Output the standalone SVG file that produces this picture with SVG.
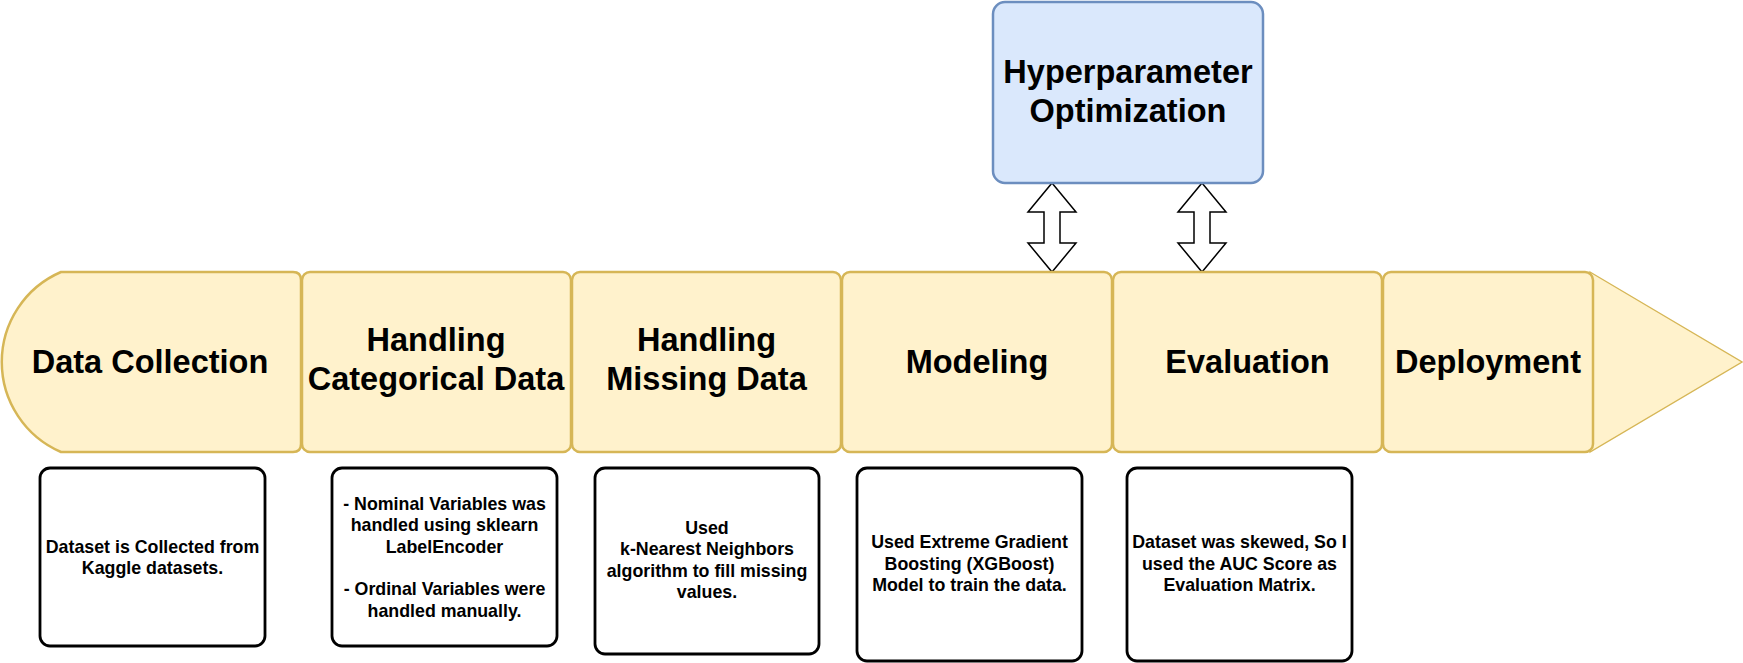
<svg xmlns="http://www.w3.org/2000/svg" width="1743" height="663" viewBox="0 0 1743 663">
<style>
.seg{fill:#fff2cc;stroke:#d6b656;stroke-width:2.5}
.tri{fill:#fff2cc;stroke:#d6b656;stroke-width:1.3}
.hyp{fill:#dae8fc;stroke:#6c8ebf;stroke-width:2.5}
.box{fill:#ffffff;stroke:#000000;stroke-width:2.8}
.arr{fill:#ffffff;stroke:#000000;stroke-width:1.5;stroke-linejoin:miter}
.big{font-family:"Liberation Sans",Arial,sans-serif;font-weight:bold;font-size:32.5px;fill:#000;text-anchor:middle}
.small{font-family:"Liberation Sans",Arial,sans-serif;font-weight:bold;font-size:17.8px;fill:#000;text-anchor:middle}
</style>
<rect width="1743" height="663" fill="#ffffff"/>

<g id="connectors">
<path class="arr" d="M1052 183 L1076 212 L1060 212 L1060 243 L1076 243 L1052 272 L1028 243 L1044 243 L1044 212 L1028 212 Z"/>
<path class="arr" d="M1202 183 L1226 212 L1210 212 L1210 243 L1226 243 L1202 272 L1178 243 L1194 243 L1194 212 L1178 212 Z"/>
</g>

<g id="hyperparameter">
<rect class="hyp" x="993" y="2" width="270" height="181" rx="12"/>
<text class="big" x="1128" y="83">Hyperparameter</text>
<text class="big" x="1128" y="122">Optimization</text>
</g>

<g id="arrow-tip">
<polygon class="tri" points="1590,272 1742,362 1590,452"/>
</g>

<g id="data-collection">
<path class="seg" d="M61 272 L293 272 Q301 272 301 280 L301 444 Q301 452 293 452 L61 452 A98 98 0 0 1 61 272 Z"/>
<text class="big" x="150" y="373">Data Collection</text>
</g>

<g id="categorical">
<rect class="seg" x="302" y="272" width="269" height="180" rx="8"/>
<text class="big" x="436" y="351">Handling</text>
<text class="big" x="436" y="390">Categorical Data</text>
</g>

<g id="missing">
<rect class="seg" x="572" y="272" width="269" height="180" rx="8"/>
<text class="big" x="706.5" y="351">Handling</text>
<text class="big" x="706.5" y="390">Missing Data</text>
</g>

<g id="modeling">
<rect class="seg" x="842" y="272" width="270" height="180" rx="8"/>
<text class="big" x="977" y="373">Modeling</text>
</g>

<g id="evaluation">
<rect class="seg" x="1113" y="272" width="269" height="180" rx="8"/>
<text class="big" x="1247.5" y="373">Evaluation</text>
</g>

<g id="deployment">
<rect class="seg" x="1383" y="272" width="210" height="180" rx="8"/>
<text class="big" x="1488" y="373">Deployment</text>
</g>

<g id="note-collection">
<rect class="box" x="40" y="468" width="225" height="178" rx="10"/>
<text class="small" x="152.5" y="552.5">Dataset is Collected from</text>
<text class="small" x="152.5" y="574">Kaggle datasets.</text>
</g>

<g id="note-categorical">
<rect class="box" x="332" y="468" width="225" height="178" rx="10"/>
<text class="small" x="444.5" y="509.5">- Nominal Variables was</text>
<text class="small" x="444.5" y="531">handled using sklearn</text>
<text class="small" x="444.5" y="552.5">LabelEncoder</text>
<text class="small" x="444.5" y="595">- Ordinal Variables were</text>
<text class="small" x="444.5" y="616.5">handled manually.</text>
</g>

<g id="note-missing">
<rect class="box" x="595" y="468" width="224" height="186" rx="10"/>
<text class="small" x="707" y="533.5">Used</text>
<text class="small" x="707" y="555">k-Nearest Neighbors</text>
<text class="small" x="707" y="576.5">algorithm to fill missing</text>
<text class="small" x="707" y="598">values.</text>
</g>

<g id="note-modeling">
<rect class="box" x="857" y="468" width="225" height="193" rx="10"/>
<text class="small" x="969.5" y="548">Used Extreme Gradient</text>
<text class="small" x="969.5" y="569.5">Boosting (XGBoost)</text>
<text class="small" x="969.5" y="591">Model to train the data.</text>
</g>

<g id="note-evaluation">
<rect class="box" x="1127" y="468" width="225" height="193" rx="10"/>
<text class="small" x="1239.5" y="548">Dataset was skewed, So I</text>
<text class="small" x="1239.5" y="569.5">used the AUC Score as</text>
<text class="small" x="1239.5" y="591">Evaluation Matrix.</text>
</g>
</svg>
